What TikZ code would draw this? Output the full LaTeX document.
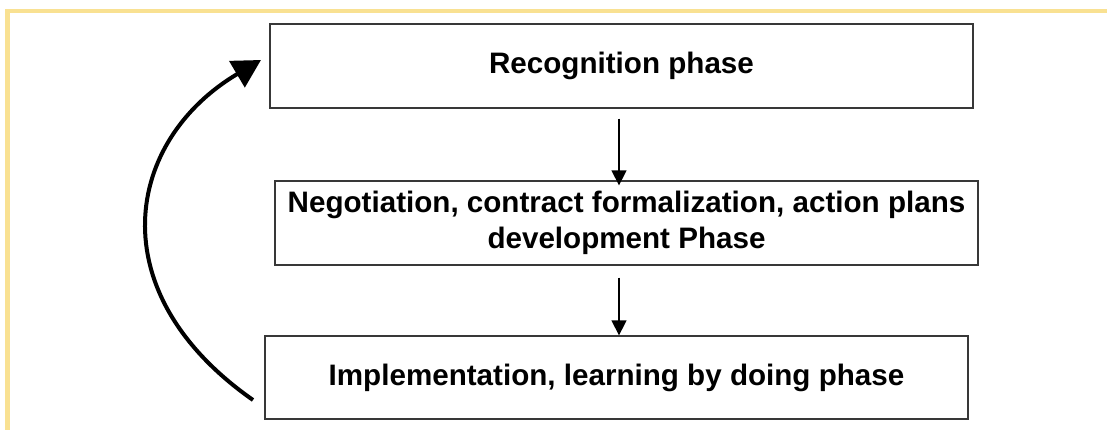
\documentclass[tikz,border=0pt]{standalone}
\usepackage{fontspec}
\setmainfont{Liberation Sans}
\usetikzlibrary{arrows.meta}
\definecolor{frameyellow}{RGB}{249,225,146}
\tikzset{
  phasebox/.style={draw=black!78, line width=1.3pt, fill=white, inner sep=0pt,
    minimum height=84pt, align=center,
    font=\fontsize{29.6}{35.5}\selectfont\bfseries},
  flowarrow/.style={line width=1.5pt, -{Triangle[length=15pt,width=15pt]}},
  looparrow/.style={line width=4pt, -{Triangle[length=28pt,width=30pt]}}
}
\begin{document}
\begin{tikzpicture}[x=1pt,y=1pt]
\useasboundingbox (0,0) rectangle (1107,430);
% yellow frame
\draw[frameyellow, line width=4.5pt] (7.5,0) -- (7.5,419) -- (1107,419);
% boxes
\node[phasebox, minimum width=703pt] (b1) at (621.5,364) {Recognition phase};
\node[phasebox, minimum width=703pt] (b2) at (626.5,207) {Negotiation, contract formalization, action plans\\development Phase};
\node[phasebox, minimum width=703pt, minimum height=83pt] (b3) at (616.5,52.5) {Implementation, learning by doing phase};
% straight arrows
\draw[flowarrow] ([xshift=-2.5pt,yshift=-10pt]b1.south) -- ([xshift=-7.5pt,yshift=-5pt]b2.north);
\draw[flowarrow] ([xshift=-7.5pt,yshift=-12pt]b2.south) -- ([xshift=2.5pt]b3.north);
% loop arrow
\coordinate (ls) at (253,30);
\coordinate (le) at (261,370);
\draw[looparrow] (ls) .. controls (97.4,139) and (125.8,290) .. (le);
\end{tikzpicture}
\end{document}
